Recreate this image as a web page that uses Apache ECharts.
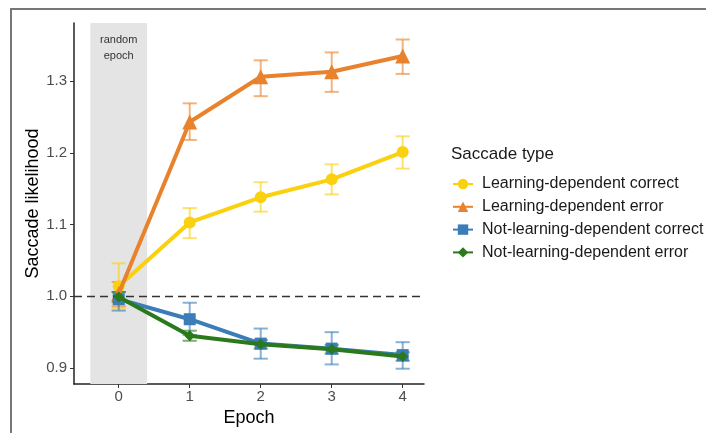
<!DOCTYPE html>
<html>
<head>
<meta charset="utf-8">
<script src="https://cdn.jsdelivr.net/npm/echarts@6/dist/echarts.min.js"></script>
<style>
html,body{margin:0;padding:0;background:#fff;}
#chart{width:706px;height:433px;}
</style>
</head>
<body>
<div id="chart"></div>
<script>
// ---- data ----
const epochs = [0, 1, 2, 3, 4];
const xTicks = [0, 1, 2, 3, 4];
const yTicks = [0.9, 1.0, 1.1, 1.2, 1.3];
const seriesNames = [
  'Learning-dependent correct',
  'Learning-dependent error',
  'Not-learning-dependent correct',
  'Not-learning-dependent error'
];
const ldCorrect      = [1.014, 1.103, 1.138, 1.163, 1.201];
const ldCorrectLo    = [0.983, 1.081, 1.118, 1.142, 1.178];
const ldCorrectHi    = [1.046, 1.123, 1.159, 1.184, 1.223];
const ldError        = [1.004, 1.243, 1.306, 1.313, 1.335];
const ldErrorLo      = [0.986, 1.218, 1.279, 1.285, 1.310];
const ldErrorHi      = [1.020, 1.269, 1.329, 1.340, 1.358];
const nldCorrect     = [0.996, 0.968, 0.934, 0.927, 0.918];
const nldCorrectLo   = [0.980, 0.946, 0.913, 0.905, 0.899];
const nldCorrectHi   = [1.006, 0.991, 0.955, 0.950, 0.936];
const nldError       = [0.999, 0.945, 0.933, 0.926, 0.916];
const nldErrorLo     = [0.992, 0.938, 0.927, 0.920, 0.910];
const nldErrorHi     = [1.006, 0.952, 0.939, 0.932, 0.922];
const randomBand = [-0.4, 0.4];
const refLevel = 1.0;

// ---- styling ----
const colors = ['#FAD00F', '#E8822C', '#3A7DB7', '#2A7A1C'];
const symbols = ['circle', 'triangle', 'rect', 'diamond'];
const symbolSizes = [12, 15, 12, 11];
const errColors = ['rgba(250,208,15,0.6)', 'rgba(232,130,44,0.6)', 'rgba(58,125,183,0.6)', 'rgba(42,122,28,0.6)'];

const means = [ldCorrect, ldError, nldCorrect, nldError];
const lows = [ldCorrectLo, ldErrorLo, nldCorrectLo, nldErrorLo];
const highs = [ldCorrectHi, ldErrorHi, nldCorrectHi, nldErrorHi];

function errRender(color) {
  return function (params, api) {
    const x = api.value(0), lo = api.value(1), hi = api.value(2);
    const pLo = api.coord([x, lo]);
    const pHi = api.coord([x, hi]);
    const w = api.size([0.1, 0])[0];
    const st = { stroke: color, lineWidth: 2, fill: null };
    return {
      type: 'group',
      children: [
        { type: 'line', shape: { x1: pLo[0], y1: pLo[1], x2: pHi[0], y2: pHi[1] }, style: st },
        { type: 'line', shape: { x1: pLo[0] - w, y1: pLo[1], x2: pLo[0] + w, y2: pLo[1] }, style: st },
        { type: 'line', shape: { x1: pHi[0] - w, y1: pHi[1], x2: pHi[0] + w, y2: pHi[1] }, style: st }
      ]
    };
  };
}

const series = [];
series.push({
  name: 'band',
  type: 'line',
  data: [],
  z: 0,
  silent: true,
  markArea: {
    silent: true,
    itemStyle: { color: '#e4e4e4' },
    label: {
      show: true,
      position: 'insideTop',
      distance: 9,
      formatter: 'random\nepoch',
      fontFamily: 'Liberation Sans, Arial, sans-serif',
      fontSize: 11,
      lineHeight: 16,
      color: '#333'
    },
    data: [[{ xAxis: randomBand[0] }, { xAxis: randomBand[1] }]]
  },
  markLine: {
    silent: true,
    symbol: 'none',
    label: { show: false },
    lineStyle: { color: '#333', width: 1.4, type: [8, 5] },
    data: [{ yAxis: refLevel }]
  }
});
for (let i = 0; i < 4; i++) {
  series.push({
    name: 'err' + i,
    type: 'custom',
    z: 1,
    silent: true,
    renderItem: errRender(errColors[i]),
    data: epochs.map((e, k) => [e, lows[i][k], highs[i][k]])
  });
}
for (let i = 0; i < 4; i++) {
  series.push({
    name: seriesNames[i],
    type: 'line',
    z: 2 + i,
    symbol: symbols[i],
    symbolSize: symbolSizes[i],
    color: colors[i],
    lineStyle: { width: 4, color: colors[i] },
    itemStyle: { color: colors[i] },
    data: epochs.map((e, k) => [e, means[i][k]])
  });
}

const chart = echarts.init(document.getElementById('chart'), null, { renderer: 'canvas' });
chart.setOption({
  animation: false,
  backgroundColor: '#fff',
  textStyle: { fontFamily: 'Liberation Sans, Arial, sans-serif' },
  graphic: [{
    type: 'rect',
    shape: { x: 11, y: 9, width: 720, height: 450 },
    style: { fill: null, stroke: '#777', lineWidth: 2 },
    silent: true
  }],
  title: {
    text: 'Saccade type',
    left: 451,
    top: 146,
    padding: 0,
    textStyle: { fontSize: 17, fontWeight: 'normal', color: '#1a1a1a', fontFamily: 'Liberation Sans, Arial, sans-serif' }
  },
  legend: {
    data: seriesNames,
    orient: 'vertical',
    left: 452,
    top: 176,
    padding: 0,
    itemWidth: 20,
    itemHeight: 13,
    itemGap: 6.8,
    textStyle: { fontSize: 16, lineHeight: 16, color: '#1a1a1a', padding: [0, 0, 0, 4], fontFamily: 'Liberation Sans, Arial, sans-serif' }
  },
  grid: { left: 74, right: 282, top: 23, bottom: 49 },
  xAxis: {
    type: 'value',
    min: -0.63,
    max: 4.3,
    name: 'Epoch',
    nameLocation: 'middle',
    nameGap: 24,
    nameTextStyle: { fontSize: 18, color: '#000' },
    splitLine: { show: false },
    axisLine: { show: true, onZero: false, lineStyle: { color: '#222', width: 1.5 } },
    axisTick: { show: true, length: 4, customValues: xTicks, lineStyle: { color: '#333' } },
    axisLabel: { customValues: xTicks, fontSize: 15, color: '#4d4d4d', margin: 5 }
  },
  yAxis: {
    type: 'value',
    min: 0.8777,
    max: 1.381,
    name: 'Saccade likelihood',
    nameLocation: 'middle',
    nameGap: 32,
    nameTextStyle: { fontSize: 18, color: '#000' },
    splitLine: { show: false },
    axisLine: { show: true, onZero: false, lineStyle: { color: '#222', width: 1.5 } },
    axisTick: { show: true, length: 4, customValues: yTicks, lineStyle: { color: '#333' } },
    axisLabel: { customValues: yTicks, fontSize: 15, color: '#4d4d4d', margin: 7, formatter: v => v.toFixed(1) }
  },
  series: series
});
</script>
</body>
</html>
